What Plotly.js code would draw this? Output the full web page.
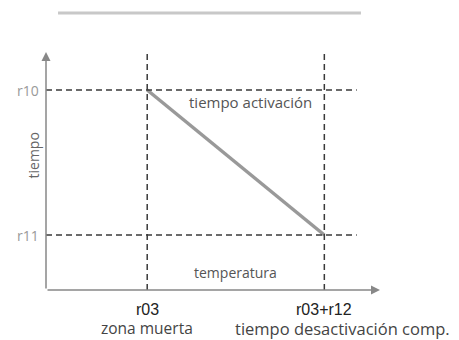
<!DOCTYPE html>
<html>
<head>
<meta charset="utf-8">
<script src="https://cdn.plot.ly/plotly-3.0.1.min.js"></script>
<style>body{margin:0;background:#fff}#chart{width:459px;height:340px}</style>
</head>
<body>
<div id="chart"></div>
<script>
// x positions (temperatura) and y levels (tiempo)
const xTickVals = [1, 2.75];
const xTickText = ['r03', 'r03+r12'];
const xSubText = ['zona muerta', 'tiempo desactivación comp.'];
const yTickVals = [1.1, 4];
const yTickText = ['r11', 'r10'];
// the ramp: tiempo goes from r10 down to r11
const rampX = [1, 2.75];
const rampY = [4, 1.1];

const xMax = 3.3, yMax = 4.76, dashEnd = 3.07;
const dashCol = '#3a3a3a';
const txtFont = {family: 'Open Sans, sans-serif', size: 15, color: '#555'};

let shapes = [];
// vertical guides
xTickVals.forEach(v => shapes.push({type: 'line', xref: 'x', yref: 'y', x0: v, x1: v, y0: 0, y1: yMax - 0.02,
    line: {color: dashCol, width: 1.5, dash: '6px,4px'}}));
// horizontal guides
yTickVals.forEach(v => shapes.push({type: 'line', xref: 'x', yref: 'y', x0: 0, x1: dashEnd, y0: v, y1: v,
    line: {color: dashCol, width: 1.5, dash: '6px,4px'}}));
// light bar above the chart
shapes.push({type: 'line', xref: 'paper', yref: 'paper', x0: 0.036, x1: 0.943, y0: 1.164, y1: 1.164,
    line: {color: '#c8c8c8', width: 3}});

let annotations = [
    // axis arrows
    {xref: 'x', yref: 'y', axref: 'x', ayref: 'y', x: 0, y: yMax, ax: 0, ay: 0, text: '',
     showarrow: true, arrowhead: 2, arrowsize: 1.2, arrowwidth: 1.5, arrowcolor: '#888'},
    {xref: 'x', yref: 'y', axref: 'x', ayref: 'y', x: xMax, y: 0, ax: 0, ay: 0, text: '',
     showarrow: true, arrowhead: 2, arrowsize: 1.2, arrowwidth: 1.5, arrowcolor: '#888'},
    {xref: 'x', yref: 'y', x: 2.02, y: 4, yshift: -12, showarrow: false,
     text: 'tiempo activación', font: txtFont},
    {xref: 'x', yref: 'y', x: 1.87, y: 0, yshift: 18, showarrow: false,
     text: 'temperatura', font: {family: 'Open Sans, sans-serif', size: 14, color: '#555'}},
    // y axis title
    {xref: 'paper', yref: 'paper', x: 0, xshift: -24, y: 0.563, showarrow: false, textangle: -90,
     text: 'tiempo', font: {family: 'Open Sans, sans-serif', size: 14, color: '#666'}}
];
yTickVals.forEach((v, i) => {
    annotations.push({xref: 'paper', yref: 'y', x: 0, xshift: -5, y: v, xanchor: 'right', showarrow: false,
        text: yTickText[i], font: {family: 'Open Sans, sans-serif', size: 14, color: '#999'}});
});
xTickVals.forEach((v, i) => {
    annotations.push({xref: 'x', yref: 'paper', x: v, y: 0, yshift: -19, yanchor: 'middle', showarrow: false,
        text: xTickText[i], font: {family: 'Liberation Sans, Arial, sans-serif', size: 16, color: '#222'}});
    annotations.push({xref: 'x', yref: 'paper', x: v, y: 0, yshift: -38, yanchor: 'middle', showarrow: false,
        xshift: i === 1 ? 18 : 0,
        text: xSubText[i], font: {family: 'Open Sans, sans-serif', size: i === 1 ? 16.5 : 15.5, color: '#444'}});
});

const trace = {x: rampX, y: rampY, type: 'scatter', mode: 'lines',
    line: {color: '#999', width: 3.5}, hoverinfo: 'none'};

const layout = {
    width: 459, height: 340,
    margin: {l: 46, r: 79, t: 52, b: 50},
    paper_bgcolor: '#fff', plot_bgcolor: '#fff',
    showlegend: false,
    xaxis: {range: [0, xMax], showgrid: false, zeroline: false, showline: false,
        showticklabels: false, ticks: ''},
    yaxis: {range: [0, yMax], showgrid: false, zeroline: false, showline: false,
        showticklabels: false, ticks: ''},
    shapes: shapes,
    annotations: annotations
};

Plotly.newPlot('chart', [trace], layout, {staticPlot: true});
</script>
</body>
</html>
